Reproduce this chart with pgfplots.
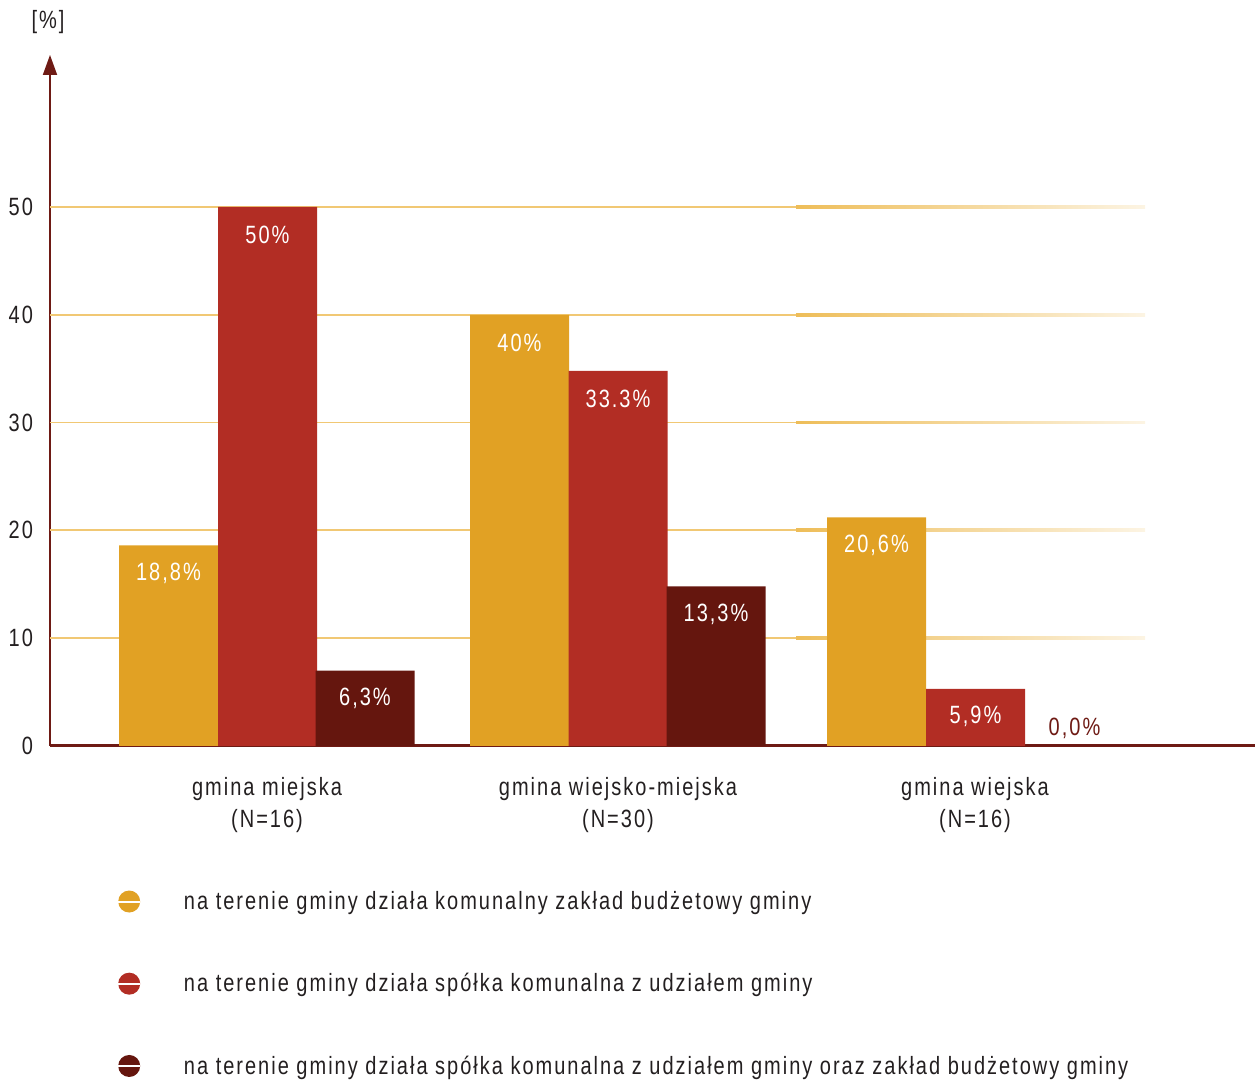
\documentclass[border=0pt]{standalone}
\usepackage{fontspec}
\setmainfont{Liberation Sans}[FakeStretch=0.8, LetterSpace=8]
\usepackage{pgfplots}
\pgfplotsset{compat=1.18}
\usetikzlibrary{arrows.meta}

\definecolor{cOrange}{RGB}{225,161,36}
\definecolor{cRed}{RGB}{178,45,36}
\definecolor{cDark}{RGB}{101,22,14}
\definecolor{cAxis}{RGB}{110,26,20}
\definecolor{cGrid}{RGB}{236,182,70}
\definecolor{cText}{RGB}{35,31,32}

\begin{document}
\begin{tikzpicture}[font=\fontsize{12.5}{15}\selectfont, text=cText]
\begin{axis}[
  scale only axis,
  width=602.5pt, height=345.5pt,
  xmin=50, xmax=1255, ymin=0, ymax=64.1,
  clip=false,
  axis lines=left,
  axis line style={cAxis},
  x axis line style={-, line width=1.5pt},
  y axis line style={-{Triangle[length=10pt,width=7pt]}, line width=0.9pt},
  ytick={0,10,20,30,40,50},
  xtick={267,618,975},
  xticklabels={{gmina miejska\\(N=16)},{gmina wiejsko-miejska\\(N=30)},{gmina wiejska\\(N=16)}},
  xticklabel style={align=center, yshift=-12pt, font=\fontsize{12.5}{16}\selectfont},
  yticklabel style={xshift=-5pt},
  major tick length=0pt,
  tick style={draw=none},
  /pgf/number format/assume math mode=true,
  legend style={at={(axis cs:117,-13.37)}, anchor=north west, draw=none, fill=none,
    inner sep=0pt, row sep=30pt, column sep=21.5pt,
    nodes={inner sep=0pt}},
  legend cell align=left,
  legend image code/.code={
    \fill[#1, draw=none] (0pt,0.3pt) circle (5.5pt);
    \draw[white, line width=1pt] (-5.4pt,0.3pt) -- (5.4pt,0.3pt);
  },
  nodes near coords,
  point meta=explicit symbolic,
  every node near coord/.style={anchor=center, yshift=-14pt, text=white},
]
% grid lines
\pgfplotsinvokeforeach{10,20,30,40,50}{
  \fill[cGrid!75] ([yshift=-0.45pt]axis cs:50,#1) rectangle ([yshift=0.45pt]axis cs:796,#1);
  \fill[left color=cGrid!90, right color=cGrid!15] ([yshift=-0.7pt]axis cs:796,#1) rectangle ([yshift=0.7pt]axis cs:1145,#1);
}

\addplot[ybar, bar width=99, bar shift=0pt, fill=cOrange, draw=none] coordinates {
  (168.5,18.6) [18{,}8\%]
  (519.5,40.0) [40\%]
  (876.5,21.2) [20{,}6\%]
};
\addlegendentry{na terenie gminy działa komunalny zakład budżetowy gminy}
\addplot[ybar, bar width=99, bar shift=0pt, fill=cRed, draw=none] coordinates {
  (267.5,50.0) [50\%]
  (618,34.8) [33.3\%]
  (975.5,5.3) [5{,}9\%]
};
\addlegendentry{na terenie gminy działa spółka komunalna z udziałem gminy}
\addplot[ybar, bar width=99, bar shift=0pt, fill=cDark, draw=none] coordinates {
  (365,7.0) [6{,}3\%]
  (716,14.8) [13{,}3\%]
};
\addlegendentry{na terenie gminy działa spółka komunalna z udziałem gminy oraz zakład budżetowy gminy}
\addplot[ybar, bar width=99, bar shift=0pt, fill=cDark, draw=none, forget plot,
  every node near coord/.style={anchor=center, yshift=9pt, text=cAxis}] coordinates {
  (1074.5,0) [0{,}0\%]
};

\node at (axis cs:48,67.2) {[\%]};
\coordinate (BL) at (axis cs:0,-30.9);
\coordinate (TR) at (axis cs:1255,69.2);
\end{axis}
\pgfresetboundingbox
\path[use as bounding box] (BL) rectangle (TR);
\end{tikzpicture}
\end{document}
